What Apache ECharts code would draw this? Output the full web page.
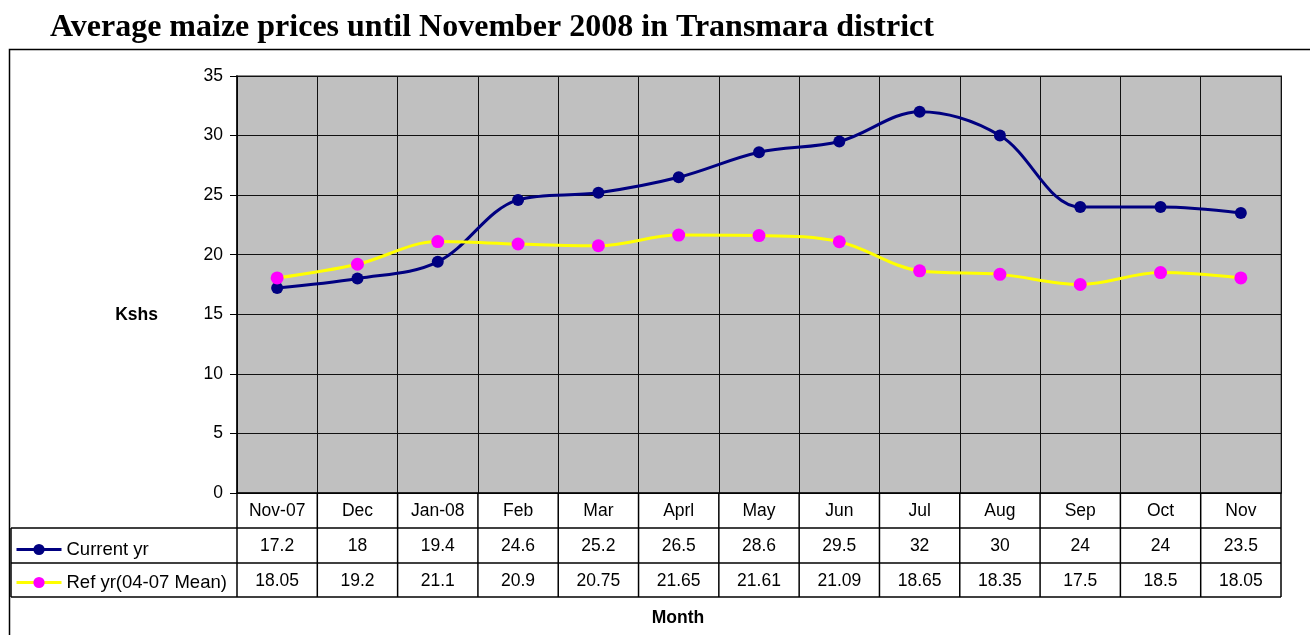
<!DOCTYPE html>
<html>
<head>
<meta charset="utf-8">
<script src="https://cdn.jsdelivr.net/npm/echarts@6/dist/echarts.min.js"></script>
<style>
  html, body { margin: 0; padding: 0; background: #fff; }
  #chart { width: 1310px; height: 635px; }
</style>
</head>
<body>
<div id="chart"></div>
<script>
// data
const months = ['Nov-07', 'Dec', 'Jan-08', 'Feb', 'Mar', 'Aprl', 'May', 'Jun', 'Jul', 'Aug', 'Sep', 'Oct', 'Nov'];
const currentYr = [17.2, 18, 19.4, 24.6, 25.2, 26.5, 28.6, 29.5, 32, 30, 24, 24, 23.5];
const refYr = [18.05, 19.2, 21.1, 20.9, 20.75, 21.65, 21.61, 21.09, 18.65, 18.35, 17.5, 18.5, 18.05];
const seriesNames = ['Current yr', 'Ref yr(04-07 Mean)'];

const FONT = '"Liberation Sans", Arial, sans-serif';
const chart = echarts.init(document.getElementById('chart'));

const option = {
  animation: false,
  title: {
    text: 'Average maize prices until November 2008 in Transmara district',
    left: 45,
    top: 7,
    textStyle: { fontFamily: '"Liberation Serif", "Times New Roman", serif', fontWeight: 'bold', fontSize: 32, color: '#000' }
  },
  legend: {
    orient: 'vertical',
    left: 10,
    top: 535,
    itemWidth: 45,
    itemHeight: 14,
    itemGap: 14,
    selectedMode: false,
    lineStyle: { width: 3 },
    textStyle: { fontFamily: FONT, fontSize: 18.5, color: '#000' },
    data: seriesNames
  },
  grid: {
    left: 237,
    right: 29,
    top: 76,
    bottom: 142,
    show: true,
    backgroundColor: '#c0c0c0',
    borderColor: '#8a8a8a',
    borderWidth: 2
  },
  xAxis: {
    type: 'category',
    data: months,
    boundaryGap: true,
    axisLine: { lineStyle: { color: '#000', width: 1.5 } },
    axisTick: { show: false },
    axisLabel: { margin: 9, fontFamily: FONT, fontSize: 17.5, color: '#000', interval: 0 },
    splitLine: { show: true, lineStyle: { color: '#111', width: 1 } }
  },
  yAxis: {
    type: 'value',
    min: 0,
    max: 35,
    interval: 5,
    axisLine: { show: true, lineStyle: { color: '#000', width: 1.5 } },
    axisTick: { show: true, length: 7, lineStyle: { color: '#000' } },
    axisLabel: { margin: 14, fontFamily: FONT, fontSize: 17.5, color: '#000' },
    splitLine: { show: true, lineStyle: { color: '#111', width: 1 } }
  },
  series: [
    {
      name: seriesNames[0],
      type: 'line',
      data: currentYr,
      smooth: 0.35,
      symbol: 'circle',
      symbolSize: 12,
      lineStyle: { color: '#000080', width: 3 },
      itemStyle: { color: '#000080' }
    },
    {
      name: seriesNames[1],
      type: 'line',
      data: refYr,
      smooth: 0.35,
      symbol: 'circle',
      symbolSize: 13,
      lineStyle: { color: '#ffff00', width: 3 },
      itemStyle: { color: '#ff00ff' }
    }
  ]
};
chart.setOption(option);

// data table under the plot, built from the arrays
function buildTable() {
  const c0 = chart.convertToPixel({ xAxisIndex: 0 }, 0);
  const c1 = chart.convertToPixel({ xAxisIndex: 0 }, 1);
  const w = c1 - c0;
  const yBase = chart.convertToPixel({ yAxisIndex: 0 }, 0);
  const rowH = 35;
  const tableLeft = 11;
  const rows = [yBase, yBase + rowH, yBase + 2 * rowH, yBase + 3 * rowH - 1];
  const xLeft = c0 - w / 2;
  const xRight = c0 + w * (months.length - 0.5);
  const els = [];
  const line = (x1, y1, x2, y2) => els.push({
    type: 'line', silent: true,
    shape: { x1, y1, x2, y2 },
    style: { stroke: '#000', lineWidth: 1.5 }
  });
  // outer chart border
  els.push({
    type: 'rect', silent: true, z: -1,
    shape: { x: 9.5, y: 49.5, width: 1330, height: 620 },
    style: { fill: 'none', stroke: '#000', lineWidth: 1.5 }
  });
  for (let r = 1; r < rows.length; r++) line(tableLeft, rows[r], xRight, rows[r]);
  line(tableLeft, rows[1], tableLeft, rows[3]);
  for (let i = 0; i <= months.length; i++) {
    const x = xLeft + i * w;
    line(x, yBase, x, rows[3]);
  }
  [currentYr, refYr].forEach((vals, r) => {
    vals.forEach((v, i) => {
      els.push({
        type: 'text', silent: true,
        style: {
          text: String(v), x: c0 + i * w, y: (rows[r + 1] + rows[r + 2]) / 2 + 1,
          align: 'center', verticalAlign: 'middle',
          font: '17.5px ' + FONT, fill: '#000'
        }
      });
    });
  });
  // axis titles
  els.push({
    type: 'text', silent: true,
    style: {
      text: 'Kshs', x: 158, y: 315, align: 'right', verticalAlign: 'middle',
      font: 'bold 17.5px ' + FONT, fill: '#000'
    }
  });
  els.push({
    type: 'text', silent: true,
    style: {
      text: 'Month', x: 678, y: 618, align: 'center', verticalAlign: 'middle',
      font: 'bold 17.5px ' + FONT, fill: '#000'
    }
  });
  chart.setOption({ graphic: els });
}
buildTable();
</script>
</body>
</html>
